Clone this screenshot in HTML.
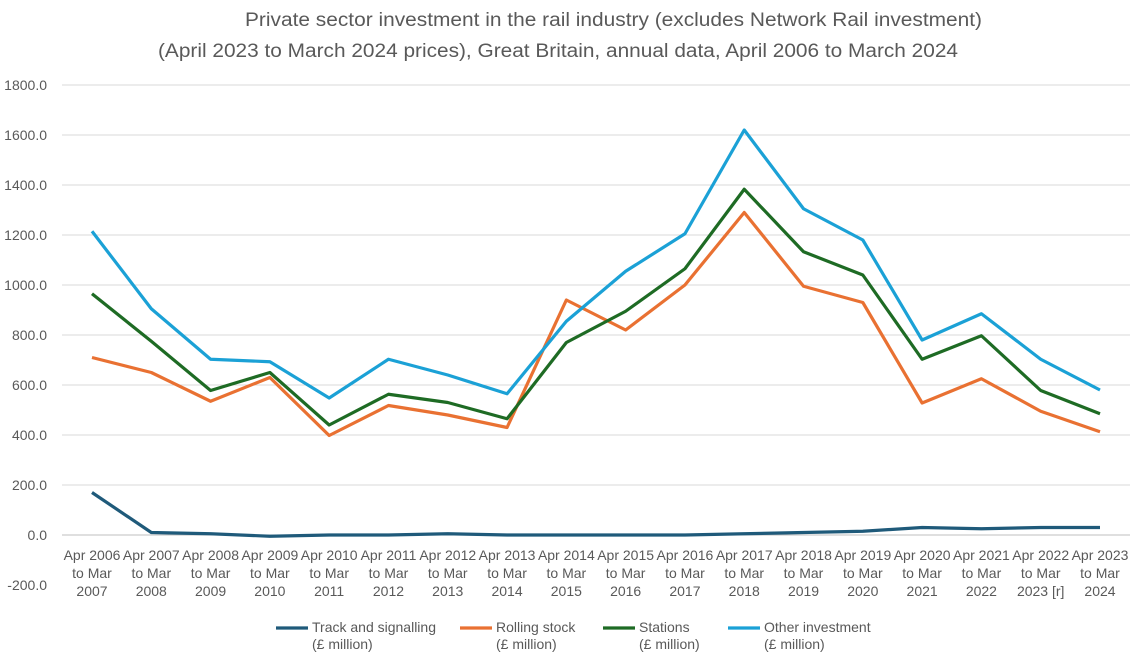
<!DOCTYPE html>
<html><head><meta charset="utf-8"><style>
body{margin:0;background:#fff;font-family:"Liberation Sans",sans-serif;}
svg text{font-family:"Liberation Sans",sans-serif;fill:#595959;}
</style></head><body>
<svg id="chart" width="1140" height="663" viewBox="0 0 1140 663">
<text x="245" y="26" font-size="19" textLength="737" lengthAdjust="spacingAndGlyphs">Private sector investment in the rail industry (excludes Network Rail investment)</text>
<text x="158" y="57" font-size="19" textLength="800" lengthAdjust="spacingAndGlyphs">(April 2023 to March 2024 prices), Great Britain, annual data, April 2006 to March 2024</text>
<g id="grid"></g><g id="yticks"></g><g id="xticks"></g><g id="series"></g><g id="legend"></g>
</svg>
<script>
const categories=[["Apr 2006","to Mar","2007"],["Apr 2007","to Mar","2008"],["Apr 2008","to Mar","2009"],["Apr 2009","to Mar","2010"],["Apr 2010","to Mar","2011"],["Apr 2011","to Mar","2012"],["Apr 2012","to Mar","2013"],["Apr 2013","to Mar","2014"],["Apr 2014","to Mar","2015"],["Apr 2015","to Mar","2016"],["Apr 2016","to Mar","2017"],["Apr 2017","to Mar","2018"],["Apr 2018","to Mar","2019"],["Apr 2019","to Mar","2020"],["Apr 2020","to Mar","2021"],["Apr 2021","to Mar","2022"],["Apr 2022","to Mar","2023 [r]"],["Apr 2023","to Mar","2024"]];
const track=[170,10,5,-5,0,0,5,0,0,0,0,5,10,15,30,25,30,30];
const rolling=[710,650,535,630,398,518,480,430,940,820,1000,1290,995,930,528,625,495,413];
const stations=[965,775,578,650,440,563,530,465,770,895,1065,1383,1133,1040,703,797,578,485];
const other=[1215,905,703,693,548,703,640,565,855,1055,1205,1620,1305,1180,780,885,703,580];
const yTicks=[-200,0,200,400,600,800,1000,1200,1400,1600,1800];
const seriesNames=["Track and signalling","Rolling stock","Stations","Other investment"];
const seriesColors=["#1f5a7a","#e97132","#1e6b24","#1ba1d6"];
const NS="http://www.w3.org/2000/svg";
const x0=92,dx=(1100-92)/17;
const X=i=>x0+i*dx;
const Y=v=>535-v*0.25;
function mk(t,a,p){const e=document.createElementNS(NS,t);for(const k in a)e.setAttribute(k,a[k]);p.appendChild(e);return e;}
const grid=document.getElementById('grid'),yt=document.getElementById('yticks'),xt=document.getElementById('xticks');
yTicks.forEach(v=>{
 if(v>=0){const l=mk('line',{x1:62,x2:1130,y1:Y(v),y2:Y(v),stroke:v===0?'#bfbfbf':'#d9d9d9','stroke-width':1},grid);
 
 }
 const t=mk('text',{x:47,y:Y(v)+5,'font-size':14,'text-anchor':'end'},yt);t.textContent=v.toFixed(1);
 
 
});
categories.forEach((c,i)=>{
 const t=mk('text',{x:X(i),'font-size':14,'text-anchor':'middle'},xt);
 
 
 c.forEach((s,j)=>{const ts=mk('tspan',{x:X(i),y:560+j*18},t);ts.textContent=s;});
});
const sg=document.getElementById('series');
[track,rolling,stations,other].forEach((d,k)=>{
 const p=mk('polyline',{points:d.map((v,i)=>X(i)+','+Y(v)).join(' '),fill:'none',stroke:seriesColors[k],'stroke-width':3.2,'stroke-linejoin':'round'},sg);
 
 
});
const lg=document.getElementById('legend');
const lx=[276,460,603,728];
seriesNames.forEach((n,k)=>{
 const g=mk('g',{},lg);
 
 
 mk('line',{x1:lx[k],x2:lx[k]+32,y1:628,y2:628,stroke:seriesColors[k],'stroke-width':3.2},g);
 const t=mk('text',{x:lx[k]+36,y:632,'font-size':14},g);t.textContent=n;
 const t2=mk('text',{x:lx[k]+36,y:649,'font-size':14},g);t2.textContent="(£ million)";
});
</script>
</body></html>
